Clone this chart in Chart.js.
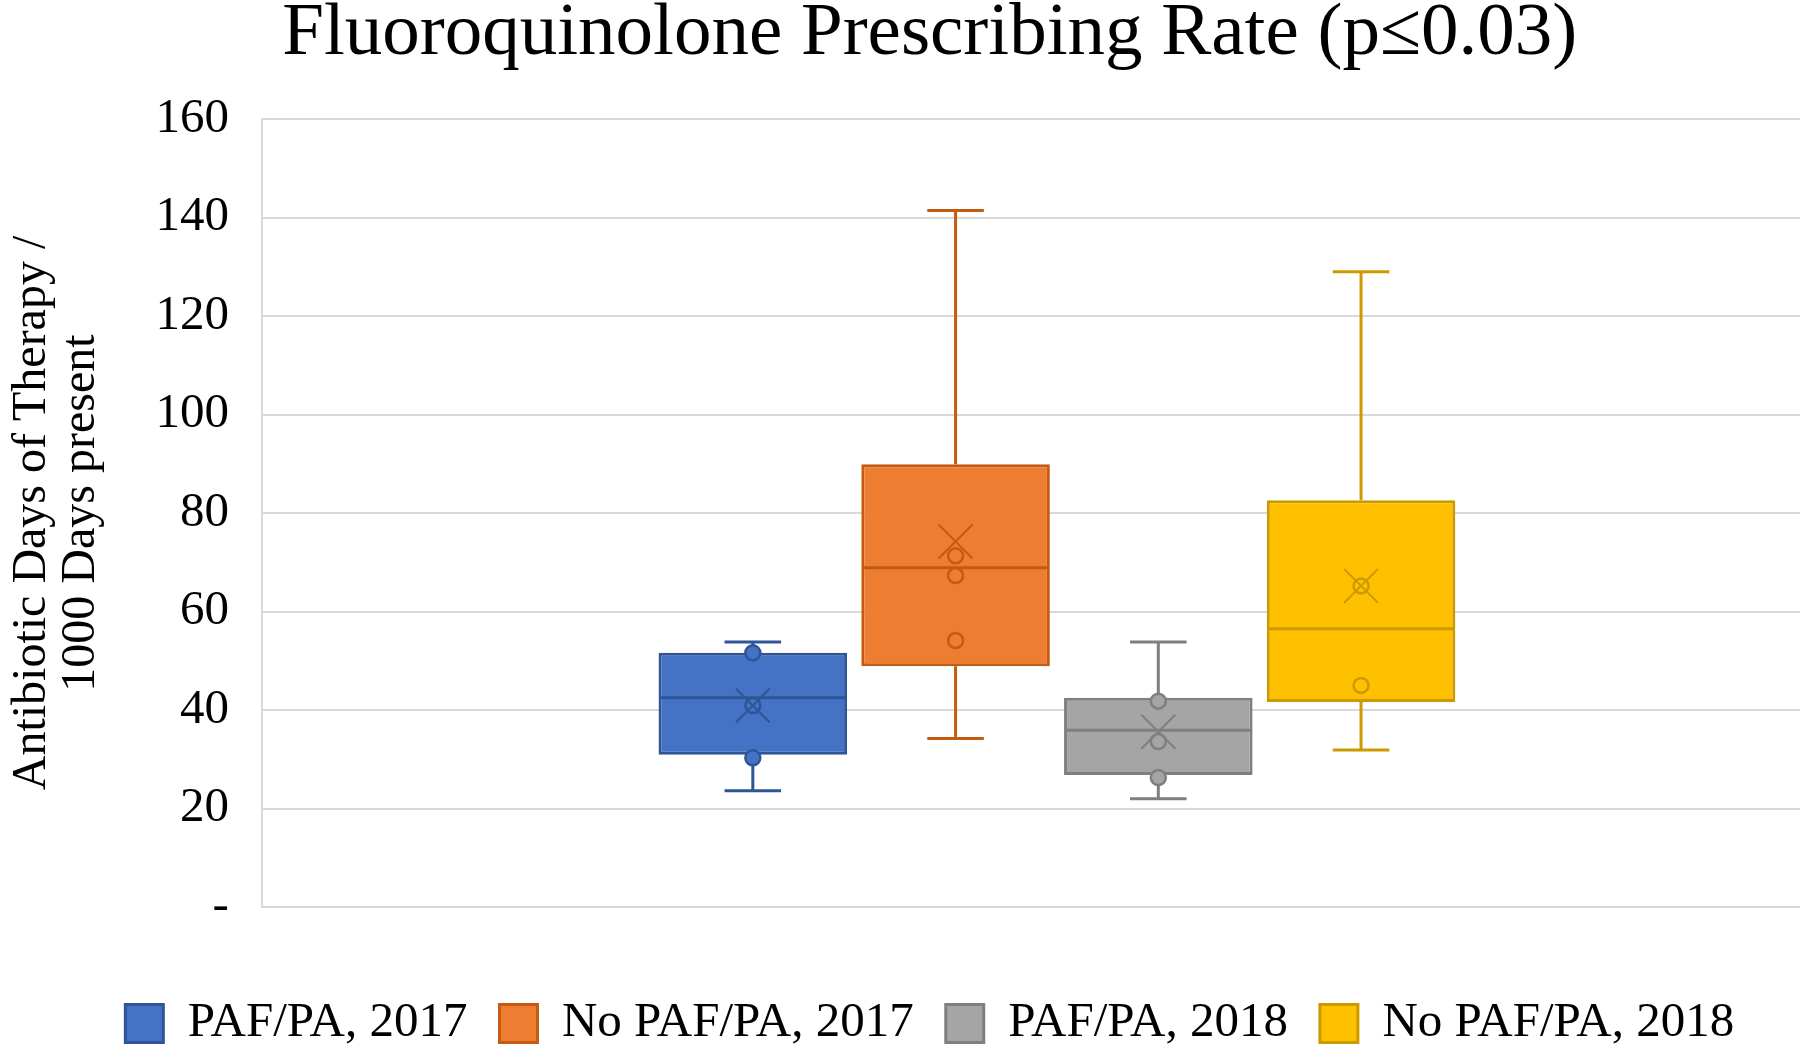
<!DOCTYPE html>
<html>
<head>
<meta charset="utf-8">
<title>Fluoroquinolone Prescribing Rate</title>
<script src="https://cdn.jsdelivr.net/npm/chart.js@4.4.1/dist/chart.umd.min.js"></script>
<style>
  html, body { margin: 0; padding: 0; background: #fff; overflow: hidden; }
  #frame { width: 1800px; height: 1047px; overflow: hidden; position: relative; }
  /* the original picture is cropped on the right, so the chart is a bit wider than the window */
  #holder { width: 1852px; height: 1058px; position: absolute; left: 0; top: 0; }
</style>
</head>
<body>
<div id="frame">
  <div id="holder"><canvas id="myChart"></canvas></div>
</div>
<script>
'use strict';

// ************* DATA *******************
const seriesNames = ['PAF/PA, 2017', 'No PAF/PA, 2017', 'PAF/PA, 2018', 'No PAF/PA, 2018'];
const minValues = [23.6, 34.2, 22.0, 31.9];
const q1Values = [30.9, 48.9, 26.8, 41.6];
const medianValues = [42.5, 68.9, 35.9, 56.5];
const q3Values = [51.6, 89.9, 42.5, 82.6];
const maxValues = [53.8, 141.4, 53.8, 129.0];
const meanValues = [40.9, 74.2, 35.6, 65.2];
const innerPoints = [
  [51.6, 40.9, 30.3],
  [71.3, 67.3, 54.1],
  [41.8, 33.6, 26.3],
  [65.2, 45.0]
];
const yTicks = [0, 20, 40, 60, 80, 100, 120, 140, 160];

// ************* STYLE *******************
const fillColors = ['#4472C4', '#ED7D31', '#A5A5A5', '#FFC000'];
const lineColors = ['#2F5597', '#C55A11', '#7F7F7F', '#CC9A00'];
const serif = "'Liberation Serif', 'Times New Roman', serif";

// build one floating bar dataset per series (the box from Q1 to Q3)
let datasets = [];
for (let i = 0; i < seriesNames.length; i++) {
  datasets.push({
    label: seriesNames[i],
    data: [[q1Values[i], q3Values[i]]],
    backgroundColor: fillColors[i],
    borderColor: lineColors[i],
    borderWidth: 3,
    borderSkipped: false,
    categoryPercentage: 0.51,
    barPercentage: 0.93
  });
}

// whiskers, median, mean and the inner points, placed with the chart's own scale
const boxExtras = {
  id: 'boxExtras',
  afterDatasetsDraw(chart) {
    const ctx = chart.ctx;
    const yScale = chart.scales.y;
    for (let i = 0; i < seriesNames.length; i++) {
      const bar = chart.getDatasetMeta(i).data[0];
      if (!bar) continue;
      const x = bar.x;
      const half = bar.width / 2;
      const cap = bar.width * 0.15;
      const yMin = yScale.getPixelForValue(minValues[i]);
      const yQ1 = yScale.getPixelForValue(q1Values[i]);
      const yMed = yScale.getPixelForValue(medianValues[i]);
      const yQ3 = yScale.getPixelForValue(q3Values[i]);
      const yMax = yScale.getPixelForValue(maxValues[i]);

      ctx.save();
      ctx.strokeStyle = lineColors[i];
      ctx.lineWidth = 3;
      ctx.beginPath();
      // whiskers
      ctx.moveTo(x, yQ3); ctx.lineTo(x, yMax);
      ctx.moveTo(x - cap, yMax); ctx.lineTo(x + cap, yMax);
      ctx.moveTo(x, yQ1); ctx.lineTo(x, yMin);
      ctx.moveTo(x - cap, yMin); ctx.lineTo(x + cap, yMin);
      // median
      ctx.moveTo(x - half + 1, yMed); ctx.lineTo(x + half - 1, yMed);
      ctx.stroke();

      // inner points
      ctx.lineWidth = 2.5;
      ctx.fillStyle = fillColors[i];
      for (let p = 0; p < innerPoints[i].length; p++) {
        const py = yScale.getPixelForValue(innerPoints[i][p]);
        ctx.beginPath();
        ctx.arc(x, py, 7.5, 0, Math.PI * 2);
        ctx.fill();
        ctx.stroke();
      }

      // mean marker (x)
      const yMean = yScale.getPixelForValue(meanValues[i]);
      const m = 17;
      ctx.lineWidth = 2;
      ctx.beginPath();
      ctx.moveTo(x - m, yMean - m); ctx.lineTo(x + m, yMean + m);
      ctx.moveTo(x - m, yMean + m); ctx.lineTo(x + m, yMean - m);
      ctx.stroke();
      ctx.restore();
    }
  }
};

const ctx = document.getElementById('myChart').getContext('2d');

const chartObj = {
  type: 'bar',
  data: {
    labels: [''],
    datasets: datasets
  },
  plugins: [boxExtras],
  options: {
    responsive: true,
    maintainAspectRatio: false,
    animation: false,
    layout: {
      padding: { left: 7.5, right: 0, top: 0, bottom: 0 }
    },
    plugins: {
      title: {
        display: true,
        text: 'Fluoroquinolone Prescribing Rate (p\u22640.03)',
        color: '#000',
        font: { family: serif, size: 75, weight: 'normal', lineHeight: 0.8 },
        padding: { top: 4, bottom: 55 }
      },
      legend: {
        position: 'bottom',
        labels: {
          color: '#000',
          font: { family: serif, size: 49 },
          boxWidth: 38,
          boxHeight: 38,
          padding: 32
        }
      },
      tooltip: { enabled: false }
    },
    scales: {
      x: {
        ticks: { display: false },
        grid: { display: false },
        border: { display: false },
        // empty band between the plot and the legend
        afterFit(axis) {
          axis.height = 60;
        }
      },
      y: {
        min: 0,
        max: 160,
        afterBuildTicks(axis) {
          axis.ticks = yTicks.map(v => ({ value: v }));
        },
        ticks: {
          color: '#000',
          padding: 33,
          font: { family: serif, size: 49 },
          callback: (value) => value === 0 ? '-' : value
        },
        grid: { color: '#D9D9D9', lineWidth: 2, drawTicks: false },
        border: { display: true, color: '#D9D9D9', width: 2 },
        title: {
          display: true,
          text: ['Antibiotic Days of Therapy /', '1000 Days present'],
          color: '#000',
          font: { family: serif, size: 48, lineHeight: 1.03 },
          padding: { top: 0, bottom: 16 }
        }
      }
    }
  }
};

const myChart = new Chart(ctx, chartObj); // eslint-disable-line
</script>
</body>
</html>
